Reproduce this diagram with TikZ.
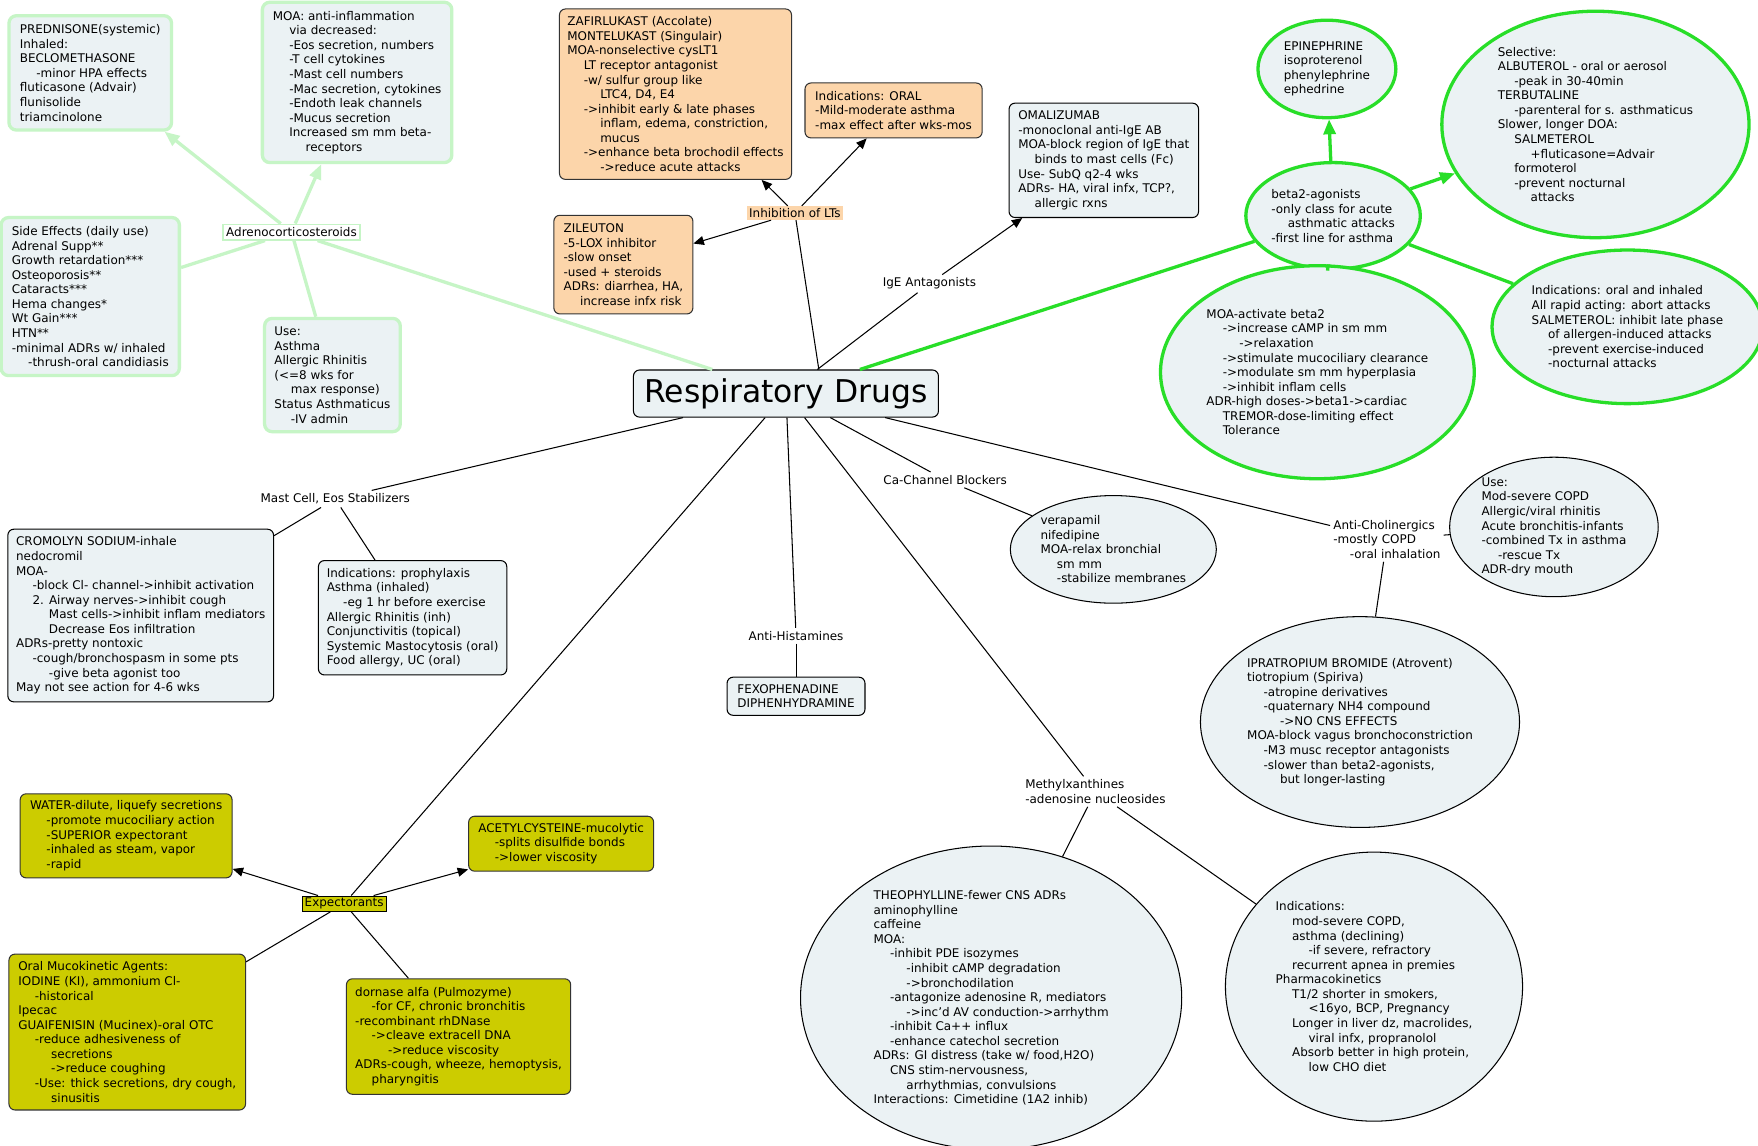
\documentclass[tikz,border=0pt]{standalone}
\usepackage{fontspec}
\setmainfont{DejaVu Sans}
\usetikzlibrary{arrows.meta, shapes, positioning}

\definecolor{boxfill}{RGB}{235,242,244}
\definecolor{mint}{RGB}{198,245,198}
\definecolor{betagreen}{RGB}{40,222,40}
\definecolor{peach}{RGB}{252,213,170}
\definecolor{expfill}{RGB}{204,204,0}

\newcommand{\stepin}{\hspace*{11pt}}

\tikzset{
  txt/.style={font=\fontsize{8}{9.75}\selectfont, align=left, inner sep=0pt},
  sz/.style 2 args={minimum width=#1*0.75pt, minimum height=#2*0.75pt},
  rbox/.style={txt, draw=black, fill=boxfill, rounded corners=4pt, line width=0.7pt},
  steroidbox/.style={txt, draw=mint, fill=boxfill, rounded corners=5pt, line width=2.2pt},
  ltbox/.style={txt, draw=black!80, fill=peach, rounded corners=4pt, line width=0.7pt},
  expbox/.style={txt, draw=black!80, fill=expfill, rounded corners=4pt, line width=0.7pt},
  ovalnode/.style={txt, ellipse, draw=black, fill=boxfill, line width=0.7pt},
  betaoval/.style={txt, ellipse, draw=betagreen, fill=boxfill, line width=2.2pt},
  cattext/.style={txt, inner sep=2pt},
  steroidtag/.style={cattext, draw=mint, fill=white, line width=1.2pt},
  lttag/.style={cattext, fill=peach, inner sep=1.5pt},
  exptag/.style={cattext, draw=black, fill=expfill, inner sep=1.5pt},
  link/.style={draw=black, line width=0.7pt},
  steroidlink/.style={draw=mint, line width=2.2pt, -{Triangle[length=10pt,width=8pt]}},
  betalink/.style={draw=betagreen, line width=2.2pt, -{Triangle[length=10pt,width=8pt]}}
}

\begin{document}
\begin{tikzpicture}[x=0.75pt, y=-0.75pt, >={Triangle[length=7pt,width=6pt]}]
    \fill[white] (0,0) rectangle (1568,1022);
    \useasboundingbox (0,0) rectangle (1568,1022);

    % nodes %
      \node[rbox, sz={272}{42}, font=\fontsize{21}{24}\selectfont] (central) at (701,351) {Respiratory Drugs};

      % steroids
      \node[steroidtag] (adreno) at (260,207) {Adrenocorticosteroids};
      \node[steroidbox, sz={145}{102}] (pred) at (80.5,65) {PREDNISONE(systemic)\\Inhaled:\\BECLOMETHASONE\\\stepin-minor HPA effects\\fluticasone (Advair)\\flunisolide\\triamcinolone};
      \node[steroidbox, sz={169}{143}] (steroidmoa) at (318.5,73.5) {MOA: anti-inflammation\\\stepin via decreased:\\\stepin -Eos secretion, numbers\\\stepin -T cell cytokines\\\stepin -Mast cell numbers\\\stepin -Mac secretion, cytokines\\\stepin -Endoth leak channels\\\stepin -Mucus secretion\\\stepin Increased sm mm beta-\\\stepin\stepin receptors};
      \node[steroidbox, sz={159}{141}] (sidefx) at (80.5,264.5) {Side Effects (daily use)\\Adrenal Supp**\\Growth retardation***\\Osteoporosis**\\Cataracts***\\Hema changes*\\Wt Gain***\\HTN**\\-minimal ADRs w/ inhaled\\\stepin -thrush-oral candidiasis};
      \node[steroidbox, sz={121}{101}] (steroiduse) at (296.5,334.5) {Use:\\Asthma\\Allergic Rhinitis\\(<=8 wks for\\\stepin max response)\\Status Asthmaticus\\\stepin -IV admin};

      % leukotrienes
      \node[lttag] (lts) at (709,190) {Inhibition of LTs};
      \node[ltbox, sz={207}{152}] (ltra) at (602.5,84) {ZAFIRLUKAST (Accolate)\\MONTELUKAST (Singulair)\\MOA-nonselective cysLT1\\\stepin LT receptor antagonist\\\stepin -w/ sulfur group like\\\stepin\stepin LTC4, D4, E4\\\stepin ->inhibit early \& late phases\\\stepin\stepin inflam, edema, constriction,\\\stepin\stepin mucus\\\stepin ->enhance beta brochodil effects\\\stepin\stepin ->reduce acute attacks};
      \node[ltbox, sz={158}{49}] (ltind) at (797,98.5) {Indications: ORAL\\-Mild-moderate asthma\\-max effect after wks-mos};
      \node[ltbox, sz={124}{88}] (zileuton) at (556,236) {ZILEUTON\\-5-LOX inhibitor\\-slow onset\\-used + steroids\\ADRs: diarrhea, HA,\\\stepin increase infx risk};

      % IgE
      \node[cattext] (ige) at (829,253) {IgE Antagonists};
      \node[rbox, sz={169}{102}] (omal) at (984.5,143) {OMALIZUMAB\\-monoclonal anti-IgE AB\\MOA-block region of IgE that\\\stepin binds to mast cells (Fc)\\Use- SubQ q2-4 wks\\ADRs- HA, viral infx, TCP?,\\\stepin allergic rxns};

      % beta2-agonists
      \node[betaoval, sz={148}{95}] (beta) at (1189,192.5) {beta2-agonists\\-only class for acute\\\stepin asthmatic attacks\\-first line for asthma};
      \node[betaoval, sz={123}{87}] (epi) at (1183.5,61.5) {EPINEPHRINE\\isoproterenol\\phenylephrine\\ephedrine};
      \node[betaoval, sz={274}{202}] (selective) at (1423,111) {Selective:\\ALBUTEROL - oral or aerosol\\\stepin -peak in 30-40min\\TERBUTALINE\\\stepin -parenteral for s. asthmaticus\\Slower, longer DOA:\\\stepin SALMETEROL\\\stepin\stepin +fluticasone=Advair\\\stepin formoterol\\\stepin -prevent nocturnal\\\stepin\stepin attacks};
      \node[betaoval, sz={276}{190}] (betamoa) at (1175,332) {MOA-activate beta2\\\stepin ->increase cAMP in sm mm\\\stepin\stepin ->relaxation\\\stepin ->stimulate mucociliary clearance\\\stepin ->modulate sm mm hyperplasia\\\stepin ->inhibit inflam cells\\ADR-high doses->beta1->cardiac\\\stepin TREMOR-dose-limiting effect\\\stepin Tolerance};
      \node[betaoval, sz={227}{137}] (betaind) at (1451.5,291.5) {Indications: oral and inhaled\\All rapid acting: abort attacks\\SALMETEROL: inhibit late phase\\\stepin of allergen-induced attacks\\\stepin -prevent exercise-induced\\\stepin -nocturnal attacks};

      % mast cell stabilizers
      \node[cattext] (mast) at (299,445) {Mast Cell, Eos Stabilizers};
      \node[rbox, sz={237}{154}] (cromolyn) at (125.5,549) {CROMOLYN SODIUM-inhale\\nedocromil\\MOA-\\\stepin -block Cl- channel->inhibit activation\\\stepin 2. Airway nerves->inhibit cough\\\stepin\stepin Mast cells->inhibit inflam mediators\\\stepin\stepin Decrease Eos infiltration\\ADRs-pretty nontoxic\\\stepin -cough/bronchospasm in some pts\\\stepin\stepin -give beta agonist too\\May not see action for 4-6 wks};
      \node[rbox, sz={168}{102}] (mastind) at (368,551) {Indications: prophylaxis\\Asthma (inhaled)\\\stepin -eg 1 hr before exercise\\Allergic Rhinitis (inh)\\Conjunctivitis (topical)\\Systemic Mastocytosis (oral)\\Food allergy, UC (oral)};

      % anti-histamines
      \node[cattext] (antihist) at (710,567) {Anti-Histamines};
      \node[rbox, sz={123}{34}, below of = antihist, node distance=40.5pt] (fexo) {FEXOPHENADINE\\DIPHENHYDRAMINE};

      % Ca-channel blockers
      \node[cattext] (cablock) at (843,428) {Ca-Channel Blockers};
      \node[ovalnode, sz={176}{96}] (verap) at (993,490) {verapamil\\nifedipine\\MOA-relax bronchial\\\stepin sm mm\\\stepin -stabilize membranes};

      % anti-cholinergics
      \node[cattext] (antichol) at (1237,481) {Anti-Cholinergics\\-mostly COPD\\\stepin -oral inhalation};
      \node[ovalnode, sz={186}{116}] (copduse) at (1386,470) {Use:\\Mod-severe COPD\\Allergic/viral rhinitis\\Acute bronchitis-infants\\-combined Tx in asthma\\\stepin -rescue Tx\\ADR-dry mouth};
      \node[ovalnode, sz={280}{188}] (iprat) at (1213,644) {IPRATROPIUM BROMIDE (Atrovent)\\tiotropium (Spiriva)\\\stepin -atropine derivatives\\\stepin -quaternary NH4 compound\\\stepin\stepin ->NO CNS EFFECTS\\MOA-block vagus bronchoconstriction\\\stepin -M3 musc receptor antagonists\\\stepin -slower than beta2-agonists,\\\stepin\stepin but longer-lasting};

      % methylxanthines
      \node[cattext] (methyl) at (977,706) {Methylxanthines\\-adenosine nucleosides};
      \node[ovalnode, sz={340}{260}] (theo) at (884,890) {THEOPHYLLINE-fewer CNS ADRs\\aminophylline\\caffeine\\MOA:\\\stepin -inhibit PDE isozymes\\\stepin\stepin -inhibit cAMP degradation\\\stepin\stepin ->bronchodilation\\\stepin -antagonize adenosine R, mediators\\\stepin\stepin ->inc'd AV conduction->arrhythm\\\stepin -inhibit Ca++ influx\\\stepin -enhance catechol secretion\\ADRs: GI distress (take w/ food,H2O)\\\stepin CNS stim-nervousness,\\\stepin\stepin arrhythmias, convulsions\\Interactions: Cimetidine (1A2 inhib)};
      \node[ovalnode, sz={265}{240}] (methind) at (1225.5,880) {Indications:\\\stepin mod-severe COPD,\\\stepin asthma (declining)\\\stepin\stepin -if severe, refractory\\\stepin recurrent apnea in premies\\Pharmacokinetics\\\stepin T1/2 shorter in smokers,\\\stepin\stepin <16yo, BCP, Pregnancy\\\stepin Longer in liver dz, macrolides,\\\stepin\stepin viral infx, propranolol\\\stepin Absorb better in high protein,\\\stepin\stepin low CHO diet};

      % expectorants
      \node[exptag] (expect) at (307,806) {Expectorants};
      \node[expbox, sz={189}{75}] (water) at (112.5,745.5) {WATER-dilute, liquefy secretions\\\stepin -promote mucociliary action\\\stepin -SUPERIOR expectorant\\\stepin -inhaled as steam, vapor\\\stepin -rapid};
      \node[expbox, sz={165}{49}] (acetyl) at (500.5,752.5) {ACETYLCYSTEINE-mucolytic\\\stepin -splits disulfide bonds\\\stepin ->lower viscosity};
      \node[expbox, sz={211}{139}] (mucokin) at (113.5,920.5) {Oral Mucokinetic Agents:\\IODINE (KI), ammonium Cl-\\\stepin -historical\\Ipecac\\GUAIFENISIN (Mucinex)-oral OTC\\\stepin -reduce adhesiveness of\\\stepin\stepin secretions\\\stepin\stepin ->reduce coughing\\\stepin -Use: thick secretions, dry cough,\\\stepin\stepin sinusitis};
      \node[expbox, sz={200}{103}] (dornase) at (409,924.5) {dornase alfa (Pulmozyme)\\\stepin -for CF, chronic bronchitis\\-recombinant rhDNase\\\stepin ->cleave extracell DNA\\\stepin\stepin ->reduce viscosity\\ADRs-cough, wheeze, hemoptysis,\\\stepin pharyngitis};

      % edges %
      \draw[steroidlink, -] (central) -- (adreno);
      \draw[steroidlink] (adreno) -- (pred);
      \draw[steroidlink] (adreno) -- (steroidmoa);
      \draw[steroidlink, -] (adreno) -- (sidefx);
      \draw[steroidlink, -] (adreno) -- (steroiduse);

      \draw[link] ([xshift=22pt]central.north) -- (lts);
      \draw[link, ->] (lts) -- (ltra);
      \draw[link, ->] (lts) -- (ltind);
      \draw[link, ->] (lts) -- (zileuton);

      \draw[link] (central) -- (ige);
      \draw[link, ->] (ige) -- (omal);

      \draw[betalink, -] (central) -- (beta);
      \draw[betalink] (beta) -- (epi);
      \draw[betalink] (beta) -- (selective);
      \draw[betalink, -] (beta) -- (betamoa);
      \draw[betalink, -] (beta) -- (betaind);

      \draw[link] (central) -- (mast);
      \draw[link] (mast) -- (cromolyn);
      \draw[link] (mast) -- (mastind);

      \draw[link] (central) -- (antihist);
      \draw[link] (antihist) -- (fexo);

      \draw[link] (central) -- (cablock);
      \draw[link] (cablock) -- (verap);

      \draw[link] (central) -- (antichol);
      \draw[link] (antichol) -- (copduse);
      \draw[link] (antichol) -- (iprat);

      \draw[link] (central) -- (methyl);
      \draw[link] (methyl) -- (theo);
      \draw[link] (methyl) -- (methind);

      \draw[link] (central) -- (expect);
      \draw[link, ->] (expect) -- (water);
      \draw[link, ->] (expect) -- (acetyl);
      \draw[link] (expect) -- (mucokin);
      \draw[link] (expect) -- (dornase);
\end{tikzpicture}
\end{document}
